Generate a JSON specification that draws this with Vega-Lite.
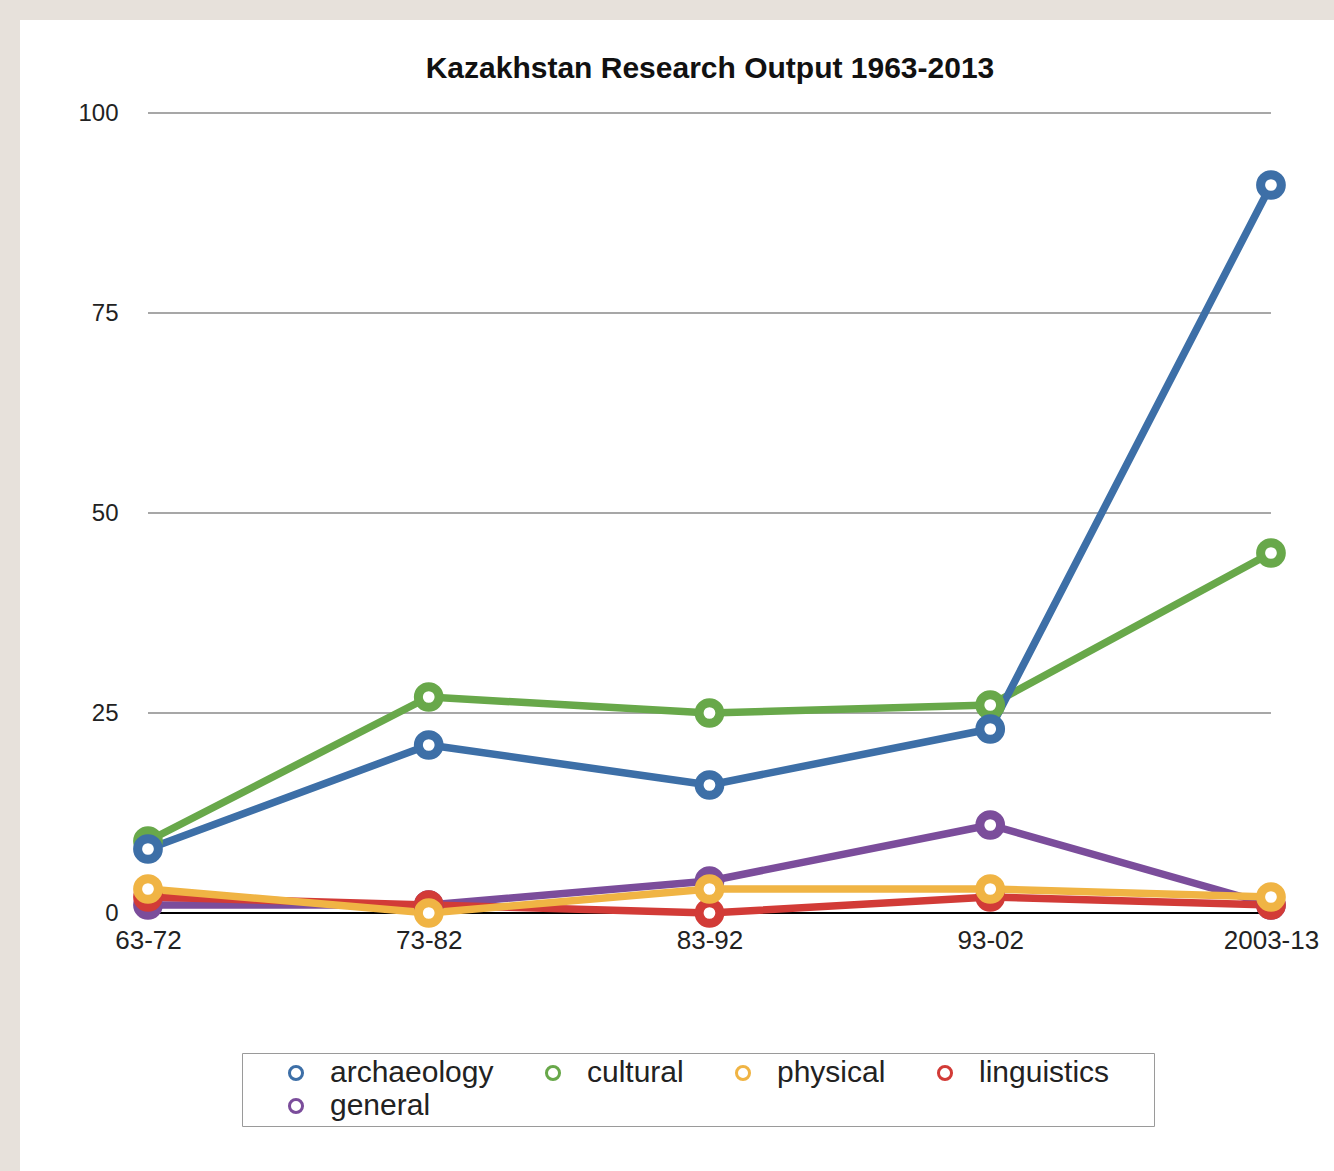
{
  "$schema": "https://vega.github.io/schema/vega-lite/v6.json",
  "width": 1314,
  "height": 1151,
  "autosize": "none",
  "padding": {"left": 20, "top": 20, "right": 0, "bottom": 0},
  "background": "#e7e1db",
  "view": {"fill": "white", "stroke": null},
  "title": {
    "text": "Kazakhstan Research Output 1963-2013",
    "font": "Liberation Sans",
    "fontSize": 30,
    "fontWeight": "bold",
    "color": "#111111",
    "anchor": "middle",
    "dx": 33,
    "offset": -64
  },
  "config": {
    "font": "Liberation Sans"
  },
  "datasets": {
    "series": [
      {"period": "63-72", "field": "general", "value": 1},
      {"period": "73-82", "field": "general", "value": 1},
      {"period": "83-92", "field": "general", "value": 4},
      {"period": "93-02", "field": "general", "value": 11},
      {"period": "2003-13", "field": "general", "value": 1},
      {"period": "63-72", "field": "linguistics", "value": 2},
      {"period": "73-82", "field": "linguistics", "value": 1},
      {"period": "83-92", "field": "linguistics", "value": 0},
      {"period": "93-02", "field": "linguistics", "value": 2},
      {"period": "2003-13", "field": "linguistics", "value": 1},
      {"period": "63-72", "field": "physical", "value": 3},
      {"period": "73-82", "field": "physical", "value": 0},
      {"period": "83-92", "field": "physical", "value": 3},
      {"period": "93-02", "field": "physical", "value": 3},
      {"period": "2003-13", "field": "physical", "value": 2},
      {"period": "63-72", "field": "cultural", "value": 9},
      {"period": "73-82", "field": "cultural", "value": 27},
      {"period": "83-92", "field": "cultural", "value": 25},
      {"period": "93-02", "field": "cultural", "value": 26},
      {"period": "2003-13", "field": "cultural", "value": 45},
      {"period": "63-72", "field": "archaeology", "value": 8},
      {"period": "73-82", "field": "archaeology", "value": 21},
      {"period": "83-92", "field": "archaeology", "value": 16},
      {"period": "93-02", "field": "archaeology", "value": 23},
      {"period": "2003-13", "field": "archaeology", "value": 91}
    ],
    "grid": [{"v": 0}, {"v": 25}, {"v": 50}, {"v": 75}, {"v": 100}]
  },
  "encoding": {
    "x": {
      "field": "period",
      "type": "ordinal",
      "sort": ["63-72", "73-82", "83-92", "93-02", "2003-13"],
      "scale": {"type": "point", "domain": ["63-72", "73-82", "83-92", "93-02", "2003-13"], "padding": 0.3402, "align": 0.67},
      "axis": {
        "title": null,
        "orient": "bottom",
        "offset": -258,
        "domain": false,
        "ticks": false,
        "grid": false,
        "labelPadding": 14,
        "labelAngle": 0,
        "labelFontSize": 26,
        "labelColor": "#222222",
        "labelOverlap": false
      }
    }
  },
  "layer": [
    {
      "data": {"name": "grid"},
      "mark": {"type": "rule", "color": "#8a8a8a", "strokeWidth": 1.5},
      "encoding": {
        "x": {"datum": "63-72", "type": "ordinal"},
        "x2": {"datum": "2003-13"},
        "y": {
          "field": "v",
          "type": "quantitative",
          "scale": {"domain": [-32.25, 111.625], "nice": false, "zero": false},
          "axis": {
            "title": null,
            "values": [0, 25, 50, 75, 100],
            "offset": -98,
            "domain": false,
            "ticks": false,
            "grid": false,
            "labelPadding": 0,
            "labelFontSize": 24,
            "labelColor": "#222222"
          }
        }
      }
    },
    {
      "data": {"values": [{"v": 0}]},
      "mark": {"type": "rule", "color": "#000000", "strokeWidth": 2},
      "encoding": {
        "x": {"datum": "63-72", "type": "ordinal"},
        "x2": {"datum": "2003-13"},
        "y": {"field": "v", "type": "quantitative"}
      }
    },
    {
      "data": {"name": "series"},
      "mark": {"type": "line", "strokeWidth": 7.5, "strokeJoin": "round", "strokeCap": "round"},
      "encoding": {
        "y": {"field": "value", "type": "quantitative"},
        "color": {
          "field": "field",
          "type": "nominal",
          "scale": {
            "domain": ["archaeology", "cultural", "physical", "linguistics", "general"],
            "range": ["#3d6fa7", "#68a84a", "#f0b444", "#d23b37", "#7b4d9b"]
          }
        }
      }
    },
    {
      "data": {"name": "series"},
      "mark": {"type": "point", "filled": false, "fill": "white", "fillOpacity": 1, "opacity": 1, "size": 430, "strokeWidth": 9},
      "encoding": {
        "y": {"field": "value", "type": "quantitative"},
        "color": {
          "field": "field",
          "type": "nominal",
          "legend": {
            "title": "\u00a0",
            "titleOrient": "right",
            "titlePadding": 40,
            "titleFontSize": 6,
            "orient": "none",
            "legendX": 222,
            "legendY": 1033,
            "columns": 4,
            "direction": "horizontal",
            "padding": 5,
            "strokeColor": "#9a9a9a",
            "fillColor": "white",
            "symbolType": "circle",
            "symbolSize": 170,
            "symbolStrokeWidth": 3,
            "symbolFillColor": "white",
            "symbolOffset": 34,
            "labelFontSize": 30,
            "labelColor": "#222222",
            "labelOffset": 19,
            "labelLimit": 400,
            "columnPadding": 10,
            "rowPadding": 3
          }
        }
      }
    }
  ]
}
